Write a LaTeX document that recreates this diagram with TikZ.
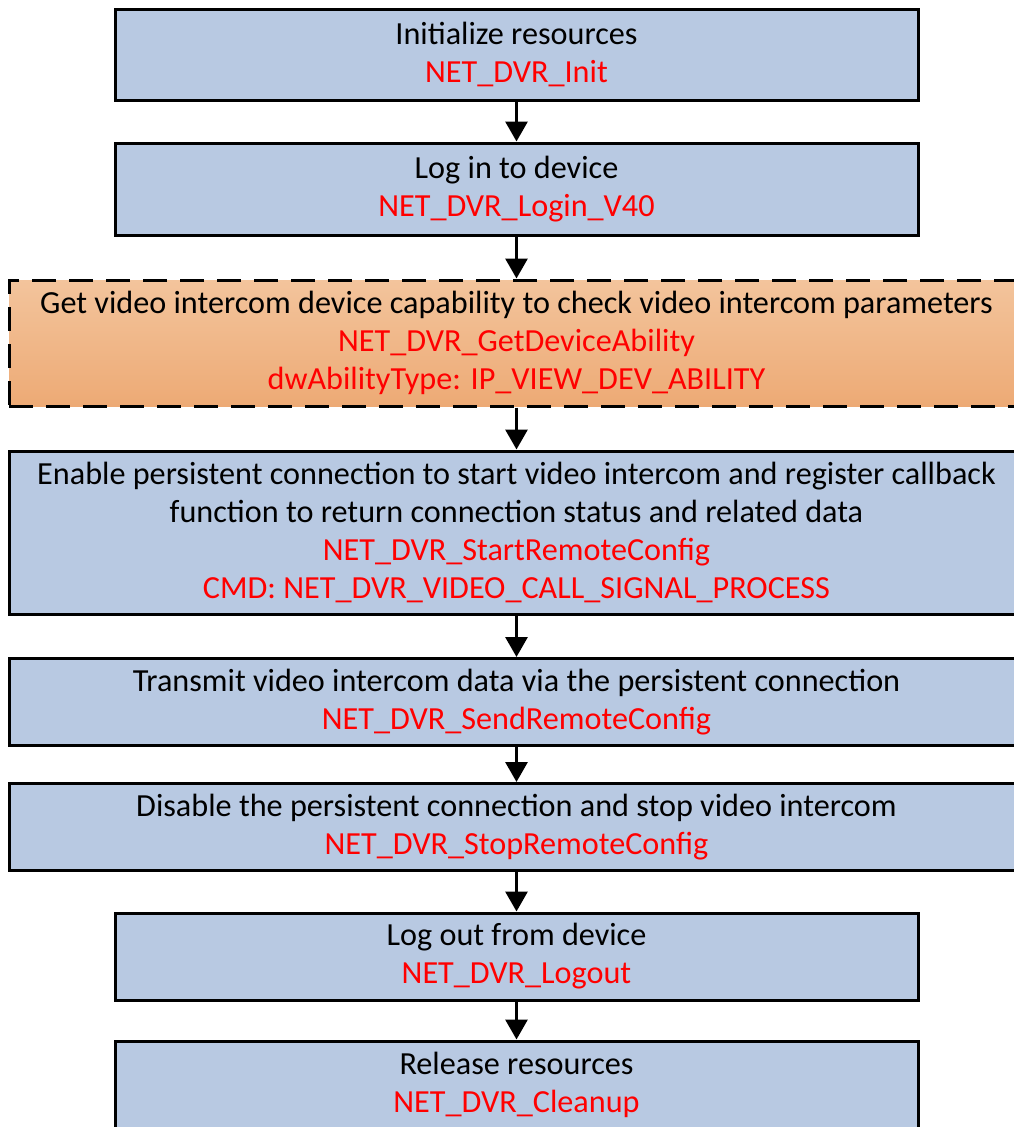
\documentclass[tikz,border=0pt]{standalone}
\usepackage{fontspec}
\setmainfont{Carlito}
\usepackage{xcolor}
\usetikzlibrary{arrows.meta}

\definecolor{boxblue}{RGB}{184,201,226}
\definecolor{opttop}{RGB}{243,196,156}
\definecolor{optbottom}{RGB}{237,170,117}
\newcommand{\api}[1]{\textcolor{red}{#1}}

\begin{document}
\begin{tikzpicture}[x=1pt, y=-1pt,
            box/.style={draw, line width=3pt, rectangle, fill=boxblue, minimum width=803pt, align=center, inner sep=0pt, font=\fontsize{32.2}{38}\selectfont},
            widebox/.style={box, minimum width=1015pt},
            optbox/.style={widebox, fill=none, top color=opttop, bottom color=optbottom, dash pattern=on 24pt off 13pt},
            flow/.style={line width=3pt, -{Triangle[width=22pt, length=20pt]}}
            ]
            \useasboundingbox (0,0) rectangle (1014,1127);

            % Nodes with manual coordinates
            \node[box, minimum height=91pt] (init) at (516.5,54.5) {Initialize resources\\ \api{NET\_DVR\_Init}};
            \node[box, minimum height=92pt] (login) at (516.5,189) {Log in to device\\ \api{NET\_DVR\_Login\_V40}};
            \node[optbox, minimum height=126pt] (ability) at (516.5,343) {Get video intercom device capability to check video intercom parameters\\ \api{NET\_DVR\_GetDeviceAbility}\\ \api{dwAbilityType: IP\_VIEW\_DEV\_ABILITY}};
            \node[widebox, minimum height=163pt] (start) at (516.5,532.5) {Enable persistent connection to start video intercom and register callback\\ function to return connection status and related data\\ \api{NET\_DVR\_StartRemoteConfig}\\ \api{CMD: NET\_DVR\_VIDEO\_CALL\_SIGNAL\_PROCESS}};
            \node[widebox, minimum height=87pt] (send) at (516.5,702) {Transmit video intercom data via the persistent connection\\ \api{NET\_DVR\_SendRemoteConfig}};
            \node[widebox, minimum height=87pt] (stop) at (516.5,827) {Disable the persistent connection and stop video intercom\\ \api{NET\_DVR\_StopRemoteConfig}};
            \node[box, minimum height=87pt] (logout) at (516.5,956.5) {Log out from device\\ \api{NET\_DVR\_Logout}};
            \node[box, minimum height=87pt] (cleanup) at (516.5,1084.5) {Release resources\\ \api{NET\_DVR\_Cleanup}};

            % Arrows
            \draw[flow] (init.south) -- (login.north);
            \draw[flow] (login.south) -- (ability.north);
            \draw[flow] (ability.south) -- (start.north);
            \draw[flow] (start.south) -- (send.north);
            \draw[flow] (send.south) -- (stop.north);
            \draw[flow] (stop.south) -- (logout.north);
            \draw[flow] (logout.south) -- (cleanup.north);
        \end{tikzpicture}
\end{document}
